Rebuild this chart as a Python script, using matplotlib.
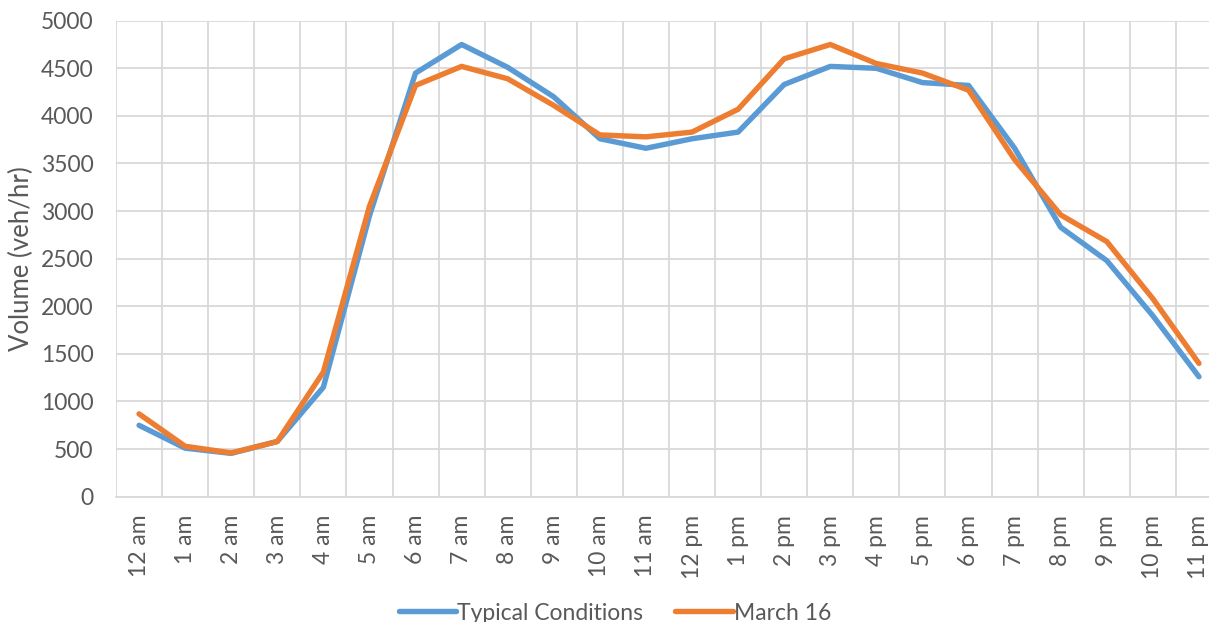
import matplotlib
matplotlib.use("Agg")
import matplotlib.pyplot as plt
import numpy as np

hours = ["12 am", "1 am", "2 am", "3 am", "4 am", "5 am", "6 am", "7 am", "8 am", "9 am",
         "10 am", "11 am", "12 pm", "1 pm", "2 pm", "3 pm", "4 pm", "5 pm", "6 pm", "7 pm",
         "8 pm", "9 pm", "10 pm", "11 pm"]
typical = [750, 510, 455, 580, 1150, 2950, 4450, 4750, 4510, 4200,
           3760, 3660, 3760, 3830, 4330, 4520, 4500, 4350, 4320, 3660,
           2830, 2480, 1900, 1260]
march16 = [870, 530, 460, 580, 1310, 3050, 4320, 4520, 4390, 4110,
           3800, 3780, 3830, 4070, 4600, 4750, 4550, 4450, 4270, 3540,
           2960, 2680, 2080, 1400]

txt = "#595959"
plt.rcParams['font.family'] = ['Lato', 'DejaVu Sans']
plt.rcParams['font.size'] = 16.5

fig = plt.figure(figsize=(12.09, 6.22), dpi=100)
ax = fig.add_axes([116 / 1209, 1 - 496.7 / 622, 1106 / 1209, 476 / 622])

x = np.arange(len(hours))
ax.plot(x, typical, color="#5B9BD5", lw=3.9, solid_joinstyle="round", solid_capstyle="round",
        label="Typical Conditions", zorder=3)
ax.plot(x, march16, color="#ED7D31", lw=3.9, solid_joinstyle="round", solid_capstyle="round",
        label="March 16", zorder=3)

ax.set_xlim(-0.5, len(hours) - 0.5)
ax.set_ylim(0, 5000)
ax.set_yticks(range(0, 5001, 500))
ax.set_xticks(x)
ax.set_xticklabels(hours, rotation=90, va="top", ha="center")
ax.set_xticks(np.arange(-0.5, len(hours), 1), minor=True)

ax.grid(axis="y", color="#D9D9D9", lw=1.3, zorder=0)
ax.grid(axis="x", which="minor", color="#D9D9D9", lw=1.3, zorder=0)
ax.tick_params(axis="both", which="both", length=0, colors=txt)
ax.tick_params(axis="x", pad=13)
ax.tick_params(axis="y", pad=16)
for s in ["top", "right", "left"]:
    ax.spines[s].set_visible(False)
ax.spines["bottom"].set_color("#D9D9D9")
ax.spines["bottom"].set_linewidth(1.3)

ax.set_ylabel("Volume (veh/hr)", color=txt, fontsize=18.5)
ax.yaxis.set_label_coords(-0.074, 0.5)

fig.legend(loc="center", bbox_to_anchor=(615 / 1209, 1 - 613 / 622), ncol=2, frameon=False,
           handlelength=2.5, handletextpad=0.05, columnspacing=1.4, labelcolor=txt)

fig.savefig("out.png", dpi=100)
